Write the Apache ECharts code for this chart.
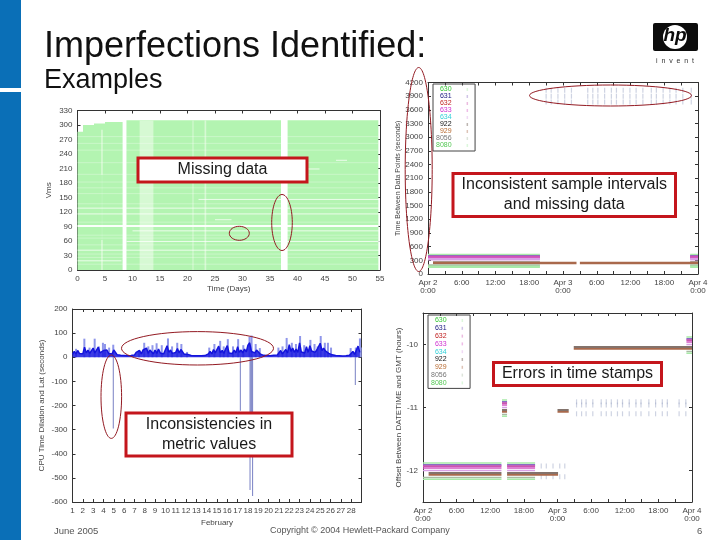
<!DOCTYPE html>
<html>
<head>
<meta charset="utf-8">
<title>Imperfections Identified</title>
<style>html,body{margin:0;padding:0;background:#fff}#main{width:720px;height:540px}</style>
<script src="https://cdn.jsdelivr.net/npm/echarts@6/dist/echarts.min.js"></script>
</head>
<body>
<div id="main"></div>
<script>
// top left chart: VM coverage per day
var coverStart = [0, 1, 3, 5, 8.9, 38.2];
var coverEnd = [1, 3, 5, 8.2, 37, 54.7];
var coverTop = [286, 300, 303, 306, 310, 310];
var paleStart = [11.3, 4.3, 20.9, 23.1];
var paleEnd = [13.8, 4.6, 21.1, 23.4];
var paleTop = [310, 290, 310, 310];
var repairStart = [4.3];
var repairEnd = [4.6];
var repairTop = [197];
var repairPaleTop = [62];
var gapVm = [128, 116, 41, 146, 81, 59, 104, 19, 227, 209];
var gapFrom = [0, 0, 0, 22, 10, 8.9, 25, 0, 47, 40];
var gapTo = [55, 55, 55, 55, 55, 55, 28, 8, 49, 44];
var faintVm = [276, 262, 248, 222, 198, 182, 170, 158, 137, 99, 72, 66, 52, 33, 26, 12];
var wideGapVm = [91];

// top right chart: time between data points
var serverNames = ['630', '631', '632', '633', '634', '922', '929', '8056', '8080'];
var intervalRows = [420, 390, 372, 350, 325, 250, 240, 190, 160];
var intervalRuns = [[[0, 19.9], [46.6, 48]], [[0, 19.9], [46.6, 48]], [[0, 19.9], [46.6, 48]], [[0, 19.9], [46.6, 48]], [[0, 19.9], [46.6, 48]],
    [[0.9, 19.9], [46.6, 48]], [[0.9, 26.4], [27, 48]], [[0, 19.9], [46.6, 48]], [[0, 19.9], [46.6, 48]]];
var sparseHours = [21, 21.9, 23.1, 24.3, 25.5, 28.4, 29.3, 30.2, 31.4, 32.6, 33.5, 34.7, 35.9, 37, 38.2, 39.7, 40.6, 41.8, 43, 44.1, 45.3, 46.8];
var sparseRows = [4030, 3900, 3770];
var timeLabels = ['Apr 2\n0:00', '6:00', '12:00', '18:00', 'Apr 3\n0:00', '6:00', '12:00', '18:00', 'Apr 4\n0:00'];

// bottom left chart: six readings per day, February
var februaryLoad = [
    [12, 24, 14, 28, 16, 22], [14, 42, 18, 30, 16, 14], [38, 18, 24, 42, 18, 16], [28, 20, 30, 16, 24, 14],
    [30, 20, 10, 8, 8, 7], [7, 6, 6, 7, 7, 8], [9, 20, 12, 28, 14, 30], [22, 38, 16, 30, 24, 14],
    [30, 16, 34, 18, 26, 14], [18, 48, 20, 30, 16, 24], [20, 36, 18, 32, 22, 12], [14, 12, 8, 7, 6, 6],
    [6, 6, 5, 6, 7, 7], [8, 14, 24, 14, 32, 18], [26, 46, 18, 28, 16, 34], [48, 18, 26, 16, 30, 18],
    [44, 20, 30, 18, 34, 22], [50, 60, 24, 32, 18, 30], [24, 14, 10, 8, 7, 7], [7, 6, 7, 8, 8, 9],
    [14, 28, 14, 20, 32, 18], [52, 24, 38, 20, 34, 20], [60, 22, 30, 18, 44, 20], [48, 26, 34, 20, 30, 24],
    [58, 28, 38, 26, 34, 16], [22, 10, 8, 7, 6, 6], [6, 5, 6, 6, 7, 8], [10, 24, 12, 18, 46, 20]
];
var peakDays = [1.3, 2.1, 2.6, 3.1, 3.5, 3.9, 4.1, 4.5, 4.9, 7.4, 7.9, 8.3, 8.7, 9.1, 9.6, 10.2, 10.6, 11.1, 11.5, 12.05,
    14.2, 14.7, 15.26, 15.6, 16, 16.5, 17, 17.5, 18.1, 18.3, 18.7, 19.1, 20.9, 21.3, 21.7, 22.2, 22.6, 23, 23.4, 24, 24.4, 24.7, 25, 25.4, 25.7, 26, 27.9, 28.4, 28.8, 29];
var peakValues = [35, 77, 40, 77, 45, 60, 55, 40, 52, 30, 60, 45, 50, 58, 50, 78, 45, 60, 55, 22,
    40, 55, 68, 45, 75, 45, 75, 50, 85, 90, 55, 38, 40, 45, 80, 60, 55, 88, 50, 72, 55, 45, 88, 60, 60, 40, 38, 40, 78, 40];
var dropDays = [4.95, 17.26, 18.2, 18.28, 18.36, 18.45, 28.4];
var dropValues = [-295, -222, -550, -230, -230, -575, -115];
var dayLabels = ['1', '2', '3', '4', '5', '6', '7', '8', '9', '10', '11', '12', '13', '14', '15', '16', '17', '18', '19', '20', '21', '22', '23', '24', '25', '26', '27', '28', ''];

// bottom right chart: offset between time stamps
var offsetTicks = [-12, -11, -10];
var offsetRows = [0.12, 0.09, 0.07, 0.04, 0, -0.04, -0.07, -0.11, -0.14];
var sparseOffset11 = [27.4, 28.3, 29.1, 30.3, 31.8, 32.7, 33.6, 34.7, 35.6, 36.8, 38, 38.9, 40.3, 41.5, 42.7, 43.6, 45.7, 46.9];
var sparseOffset11Rows = [-10.91, -10.96, -11.1];
var sparseOffset12 = [21.1, 22, 23.2, 24.4, 25.3];
var sparseOffset12Rows = [-11.93, -12.1];

var serverColors = ['#35c835', '#16167e', '#c02020', '#d030d0', '#30d0d8', '#111111', '#b86a30', '#777777', '#55c855'];
var bandColors = ['#a8eaa8', '#8a6cc4', '#cc55b0', '#d457c4', '#d9a0e6', '#5b463c', '#a9694c', '#a9bba4', '#a8eaa8'];
var fontName = '"Liberation Sans", Arial, sans-serif';
var axisColor = '#333';

var myChart = echarts.init(document.getElementById('main'));

function primaryAxis(gridIndex, type, opts) {
    var axis = {
        type: 'value',
        gridIndex: gridIndex,
        position: type,
        min: opts.min,
        max: opts.max,
        interval: opts.interval,
        scale: true,
        splitLine: { show: false },
        axisLine: { show: true, onZero: false, lineStyle: { color: axisColor, width: 1 } },
        axisTick: { show: true, inside: true, length: 3, lineStyle: { color: axisColor } },
        axisLabel: { fontSize: 8, color: '#444', fontFamily: fontName, margin: 5, hideOverlap: false, showMinLabel: true, showMaxLabel: true, formatter: opts.formatter || plainNumber },
        name: opts.name,
        nameLocation: 'middle',
        nameGap: opts.nameGap,
        nameRotate: type == 'left' ? 90 : 0,
        nameTextStyle: { fontSize: opts.nameSize || 8, color: '#444', fontFamily: fontName }
    };
    if (opts.custom) {
        axis.axisLabel.customValues = opts.custom;
        axis.axisTick.customValues = opts.custom;
    }
    return axis;
}

// gnuplot draws the ticks on all four sides, so every grid gets a bare mirror axis
function mirrorAxis(gridIndex, type, opts) {
    var axis = primaryAxis(gridIndex, type, opts);
    axis.name = '';
    axis.axisLabel = { show: false };
    if (opts.custom) axis.axisTick.customValues = opts.custom;
    return axis;
}

function plainNumber(value) {
    return String(value);
}

function hourFormatter(value) {
    return value % 6 == 0 ? timeLabels[value / 6] : '';
}

function dayFormatter(value) {
    return dayLabels[value - 1];
}

var xSpecs = [
    { min: 0, max: 55, interval: 5, name: 'Time (Days)', nameGap: 15 },
    { min: 0, max: 48, interval: 3, formatter: hourFormatter },
    { min: 1, max: 29, interval: 1, formatter: dayFormatter, name: 'February', nameGap: 17 },
    { min: 0, max: 48, interval: 3, formatter: hourFormatter }
];
var ySpecs = [
    { min: 0, max: 330, interval: 30, name: 'Vms', nameGap: 25 },
    { min: 0, max: 4200, interval: 300, name: 'Time Between Data Points (seconds)', nameGap: 17, nameSize: 7 },
    { min: -600, max: 200, interval: 100, name: 'CPU Time Dilation and Lat (seconds)', nameGap: 27 },
    { min: -12.5, max: -9.5, custom: offsetTicks, name: 'Offset Between DATETIME and GMT (hours)', nameGap: 19 }
];

var xAxes = [], yAxes = [];
for (var i = 0; i < 4; i++) {
    xAxes.push(primaryAxis(i, 'bottom', xSpecs[i]));
    yAxes.push(primaryAxis(i, 'left', ySpecs[i]));
}
for (var i = 0; i < 4; i++) {
    xAxes.push(mirrorAxis(i, 'top', xSpecs[i]));
    yAxes.push(mirrorAxis(i, 'right', ySpecs[i]));
}

function renderBlock(params, api) {
    var a = api.coord([api.value(0), api.value(2)]);
    var b = api.coord([api.value(1), 0]);
    return { type: 'rect', shape: { x: a[0], y: a[1], width: b[0] - a[0], height: b[1] - a[1] }, style: api.style() };
}

function renderGap(params, api) {
    var a = api.coord([api.value(0), api.value(2)]);
    var b = api.coord([api.value(1), api.value(2)]);
    return { type: 'line', shape: { x1: a[0], y1: a[1], x2: b[0], y2: b[1] }, style: { stroke: api.style().fill, opacity: api.style().opacity, lineWidth: api.value(3) } };
}

function blockSeries(starts, ends, tops, color) {
    var data = [];
    for (var i = 0; i < starts.length; i++) data.push([starts[i], ends[i], tops[i]]);
    return { type: 'custom', xAxisIndex: 0, yAxisIndex: 0, renderItem: renderBlock, itemStyle: { color: color }, data: data, silent: true };
}

function gapSeries(froms, tos, rows, width, opacity) {
    var data = [];
    for (var i = 0; i < rows.length; i++) data.push([froms[i], tos[i], rows[i], width]);
    return { type: 'custom', xAxisIndex: 0, yAxisIndex: 0, renderItem: renderGap, itemStyle: { color: '#fff', opacity: opacity }, data: data, silent: true };
}

function repeat(value, count) {
    var list = [];
    for (var i = 0; i < count; i++) list.push(value);
    return list;
}

function zipPairs(xs, ys) {
    var list = [];
    for (var i = 0; i < xs.length; i++) list.push([xs[i], ys[i]]);
    return list;
}

function crossRows(xs, rows) {
    var list = [];
    for (var r = 0; r < rows.length; r++) {
        for (var i = 0; i < xs.length; i++) list.push([xs[i], rows[r]]);
    }
    return list;
}

// runs is a list of [from, to]; a null splits the line between them
function runLine(runs, row) {
    var list = [];
    for (var i = 0; i < runs.length; i++) {
        list.push([runs[i][0], row]);
        list.push([runs[i][1], row]);
        list.push([runs[i][1], null]);
    }
    return list;
}

function lineSeries(index, name, color, data, width) {
    return {
        name: name, type: 'line', xAxisIndex: index, yAxisIndex: index, data: data, symbol: 'none',
        lineStyle: { color: color, width: width }, itemStyle: { color: color }, connectNulls: false, silent: true
    };
}

function sparseSeries(index, data) {
    return {
        type: 'scatter', xAxisIndex: index, yAxisIndex: index, data: data, symbol: 'rect', symbolSize: [1.2, 5],
        itemStyle: { color: '#a6aecb', opacity: 0.55 }, silent: true
    };
}

var series = [
    blockSeries(coverStart, coverEnd, coverTop, '#b3f4b1'),
    blockSeries(paleStart, paleEnd, paleTop, '#d6f9d3'),
    blockSeries(repairStart, repairEnd, repairTop, '#b3f4b1'),
    blockSeries(repairStart, repairEnd, repairPaleTop, '#d6f9d3'),
    gapSeries(repeat(0, faintVm.length), repeat(54.7, faintVm.length), faintVm, 1, 0.3),
    gapSeries(gapFrom, gapTo, gapVm, 1, 0.75),
    gapSeries([0], [54.7], wideGapVm, 2.2, 0.95),
    sparseSeries(1, crossRows(sparseHours, sparseRows)),
    sparseSeries(3, crossRows(sparseOffset11, sparseOffset11Rows)),
    sparseSeries(3, crossRows(sparseOffset12, sparseOffset12Rows))
];

// one line per server in the two time stamp charts
for (var s = 0; s < serverNames.length; s++) {
    series.push(lineSeries(1, serverNames[s], bandColors[s], runLine(intervalRuns[s], intervalRows[s]), 2.4));
    var off = offsetRows[s];
    var lateServer = s == 5 || s == 6;
    var runs12 = lateServer ? [[1, 14], [15, 24.1]] : [[0, 14], [15, 20]];
    var runs11 = lateServer ? [[14.1, 15], [24, 26]] : [[14.1, 15]];
    var runs10 = lateServer ? [[26.9, 48]] : [[47, 48]];
    var offsets = runLine(runs12, -12 + off).concat(runLine(runs11, -11 + off), runLine(runs10, -10 + off));
    series.push(lineSeries(3, serverNames[s], bandColors[s], offsets, 1.6));
}

// bottom left chart: pale spikes behind the dark trace
var loadPoints = [];
for (var d = 0; d < februaryLoad.length; d++) {
    for (var k = 0; k < februaryLoad[d].length; k++) {
        loadPoints.push([d + 1 + k / februaryLoad[d].length, februaryLoad[d][k]]);
    }
}
series.push({ type: 'bar', xAxisIndex: 2, yAxisIndex: 2, barWidth: 2, itemStyle: { color: '#8f96ea' }, data: zipPairs(peakDays, peakValues), silent: true, barGap: '-100%' });
series.push({ type: 'bar', xAxisIndex: 2, yAxisIndex: 2, barWidth: 1, itemStyle: { color: '#7880c4' }, data: zipPairs(dropDays, dropValues), silent: true, barGap: '-100%' });
var loadLine = lineSeries(2, 'load', '#1414dc', loadPoints, 1.5);
loadLine.areaStyle = { color: '#1a1ae0', opacity: 0.85 };
series.push(loadLine);

function legendBox(left, top, gap) {
    var items = [];
    for (var i = 0; i < serverNames.length; i++) {
        items.push({ name: serverNames[i], textStyle: { color: serverColors[i] } });
    }
    return {
        left: left, top: top, orient: 'vertical', align: 'right', selectedMode: false, data: items, icon: 'rect',
        itemWidth: 1.5, itemHeight: 3, itemGap: gap, padding: [2, 7, 2, 3], borderWidth: 1, borderColor: '#444',
        itemStyle: { opacity: 0.4 }, textStyle: { fontSize: 7, fontFamily: fontName, padding: [0, 10, 0, 0], lineHeight: 6.5 }
    };
}

function slideText(text, x, y, size, color, align) {
    return { type: 'text', z: 100, style: { text: text, x: x, y: y, fontSize: size, fontFamily: fontName, fill: color, textAlign: align || 'left', textVerticalAlign: 'middle' } };
}

function calloutBox(x, y, width, height, lines) {
    var items = [{ type: 'rect', z: 90, shape: { x: x, y: y, width: width, height: height }, style: { fill: '#fff', stroke: '#c4161c', lineWidth: 3 } }];
    for (var i = 0; i < lines.length; i++) {
        items.push(slideText(lines[i], x + width / 2, y + height / 2 + (i - (lines.length - 1) / 2) * 20, 16, '#1a1a1a', 'center'));
    }
    return items;
}

function circleMark(cx, cy, rx, ry) {
    return { type: 'ellipse', z: 95, shape: { cx: cx, cy: cy, rx: rx, ry: ry }, style: { fill: 'none', stroke: '#931a22', lineWidth: 1 } };
}

var graphics = [
    { type: 'rect', z: 1, shape: { x: 0, y: 0, width: 21, height: 540 }, style: { fill: '#0a6fb7' } },
    { type: 'rect', z: 2, shape: { x: 0, y: 88, width: 22, height: 4 }, style: { fill: '#fff' } },
    slideText('Imperfections Identified:', 44, 47, 36, '#111'),
    slideText('Examples', 44, 81, 27, '#111'),
    slideText('June 2005', 54, 531, 9.5, '#555'),
    slideText('Copyright \u00a9 2004 Hewlett-Packard Company', 270, 531, 9, '#555'),
    slideText('6', 697, 531, 9.5, '#555'),
    // hp logo
    { type: 'rect', z: 100, shape: { x: 653, y: 23, width: 45, height: 28, r: 2 }, style: { fill: '#0c0c0c' } },
    { type: 'circle', z: 101, shape: { cx: 675, cy: 37, r: 12 }, style: { fill: '#fff' } },
    { type: 'text', z: 102, style: { text: 'hp', x: 675, y: 36, fontSize: 19, fontStyle: 'italic', fontWeight: 'bold', fontFamily: fontName, fill: '#0c0c0c', textAlign: 'center', textVerticalAlign: 'middle' } },
    slideText('i  n  v  e  n  t', 675, 61, 7, '#333', 'center'),
    circleMark(239.3, 233.3, 10, 7),
    circleMark(282, 222.5, 10.3, 28),
    circleMark(418.7, 169.5, 13.5, 102),
    circleMark(610.5, 95.5, 81, 10.5),
    circleMark(197.5, 348.3, 76, 16.7),
    circleMark(111.3, 396.7, 10.3, 41.7)
].concat(
    calloutBox(138, 158, 169, 24, ['Missing data']),
    calloutBox(453, 173.5, 222.5, 43, ['Inconsistent sample intervals', 'and missing data']),
    calloutBox(126, 413, 166, 43, ['Inconsistencies in', 'metric values']),
    calloutBox(493.5, 362.5, 168, 23, ['Errors in time stamps'])
);

var options = {
    animation: false,
    backgroundColor: '#fff',
    textStyle: { fontFamily: fontName },
    grid: [
        { left: 77.5, top: 110.5, width: 302.5, height: 159.5 },
        { left: 428, top: 82.5, width: 270, height: 191.5 },
        { left: 72.5, top: 309, width: 289, height: 193 },
        { left: 423, top: 313, width: 269, height: 189 }
    ],
    xAxis: xAxes,
    yAxis: yAxes,
    legend: [legendBox(433, 84, 0), legendBox(428, 315, 0.8)],
    series: series,
    graphic: { elements: graphics }
};
myChart.setOption(options, true);
</script>
</body>
</html>
